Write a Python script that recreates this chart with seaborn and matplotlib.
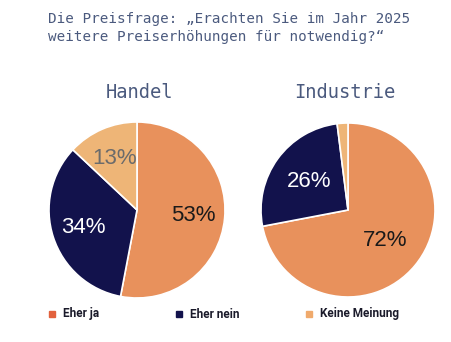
import matplotlib
matplotlib.use("Agg")
import matplotlib.pyplot as plt
import seaborn as sns
from matplotlib.patches import Rectangle

sns.set_theme(style="white")
plt.rcParams['font.family'] = ['Liberation Sans', 'DejaVu Sans']

title = "Die Preisfrage: \u201eErachten Sie im Jahr 2025\nweitere Preiserh\u00f6hungen f\u00fcr notwendig?\u201c"
categories = ["Eher ja", "Eher nein", "Keine Meinung"]
groups = ["Handel", "Industrie"]
handel = [53, 34, 13]
industrie = [72, 26, 2]

colors = ["#E8915C", "#12124C", "#EEB577"]
legend_colors = ["#E2613D", "#12124C", "#F0AA6C"]
label_colors = ["#1a1a1a", "white", "#6b6b6b"]
title_color = "#4B5A7E"

fig = plt.figure(figsize=(4.52, 3.42), dpi=100)

fig.text(48/452, 1-12/342, title, ha="left", va="top", family="DejaVu Sans Mono",
         fontsize=10.3, color=title_color, linespacing=1.35)

axes_rects = [
    [(137-88)/452, (342-298)/342, 176/452, 176/342],
    [(348-87)/452, (342-297)/342, 174/452, 174/342],
]
label_pos = [0.64, 0.55]
title_x = [140/452, 345/452]

for ax_rect, vals, name, pd, tx in zip(axes_rects, [handel, industrie], groups, label_pos, title_x):
    ax = fig.add_axes(ax_rect)
    wedges, texts, autotexts = ax.pie(
        vals, colors=colors, startangle=90, counterclock=False,
        autopct=lambda p: f"{p:.0f}%" if p >= 5 else "", pctdistance=pd,
        wedgeprops=dict(edgecolor="white", linewidth=1.2),
        textprops=dict(fontsize=16, family="Liberation Sans"))
    for t, c in zip(autotexts, label_colors):
        t.set_color(c)
    ax.set_xlim(-1.0, 1.0)
    ax.set_ylim(-1.0, 1.0)
    ax.axis("off")
    fig.text(tx, 1-93/342, name, ha="center", va="center", family="DejaVu Sans Mono",
             fontsize=13.5, color=title_color)

# legend
marker_x = [49, 176, 306]
for mx, lab, col in zip(marker_x, categories, legend_colors):
    fig.patches.append(Rectangle((mx/452, 1-317/342), 6/452, 6/342,
                                 transform=fig.transFigure, color=col, figure=fig))
    fig.text((mx+14)/452, 1-314/342, lab, ha="left", va="center", fontsize=8.5,
             fontweight="bold", color="#1a1a2a", family="Roboto")

fig.savefig("out.png", dpi=100)
